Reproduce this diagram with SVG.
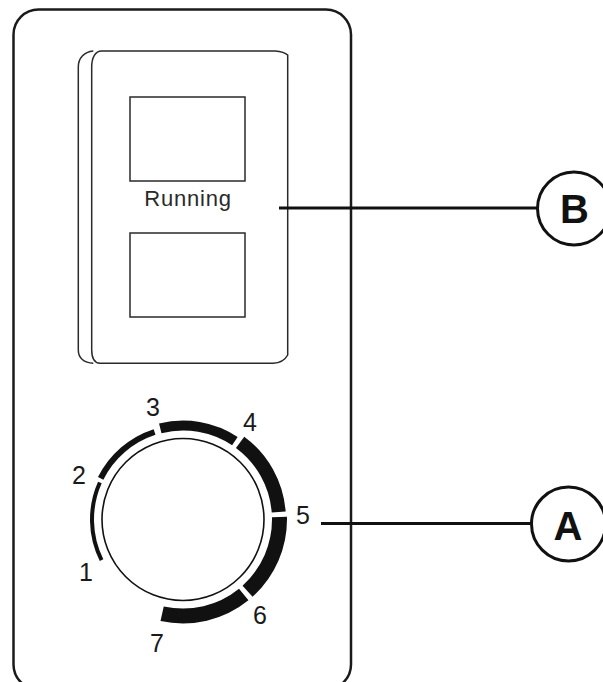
<svg xmlns="http://www.w3.org/2000/svg" width="603" height="682" viewBox="0 0 603 682">
<style>
.frame{fill:none;stroke:#1a1a1a;stroke-width:2.5}
.thin{fill:none;stroke:#2a2a2a;stroke-width:1.5}
.seg{fill:#111;stroke:none}
.lead{fill:none;stroke:#111;stroke-width:3}
.callout{fill:#fff;stroke:#111;stroke-width:3}
.num{font-family:"Liberation Sans",Arial,sans-serif;font-size:25px;fill:#1a1a1a;text-anchor:middle}
.lbl{font-family:"Liberation Sans",Arial,sans-serif;font-size:22px;fill:#2a2a2a;text-anchor:middle;letter-spacing:0.8px}
.big{font-family:"Liberation Sans",Arial,sans-serif;font-size:40px;font-weight:bold;fill:#111;text-anchor:middle}
</style>
<rect width="603" height="682" fill="#fff"/>
<g id="panel">
<rect class="frame" x="13.5" y="9.5" width="337.5" height="680" rx="25"/>
</g>
<g id="display">
<path class="thin" d="M93.3,51 C84,52 78.3,58 78.3,67 L78.3,350 C78.3,358 84,363 93.3,363.3"/>
<path class="thin" d="M101.7,51 L275,51 C281,51.5 285,52.5 287.7,55 L287.7,355 C285,360 281,363 273,363.3 L100,363.3 C94,363 91.7,358 91.7,350 L91.7,67 C91.7,58 95,51 101.7,51 Z"/>
<rect class="thin" x="130" y="97" width="115" height="84"/>
<rect class="thin" x="130" y="233" width="115" height="84"/>
<text class="lbl" x="188" y="206">Running</text>
</g>
<g id="dial">
<circle cx="183" cy="519.5" r="81" fill="none" stroke="#111" stroke-width="1.6"/>
<path class="seg" d="M99.77,561 A93,93 0 0 1 98.04,481.68 L101.7,483.3 A89,89 0 0 0 103.35,559.21 Z"/>
<path class="seg" d="M97.98,477.11 A95,95 0 0 1 153.64,429.15 L155.5,434.85 A89,89 0 0 0 103.35,479.79 Z"/>
<path class="seg" d="M159.05,423.44 A99,99 0 0 1 237.64,436.94 L232.12,445.28 A89,89 0 0 0 161.47,433.14 Z"/>
<path class="seg" d="M244.26,436.7 A103,103 0 0 1 285.68,511.42 L271.73,512.52 A89,89 0 0 0 235.94,447.95 Z"/>
<path class="seg" d="M286.96,516.78 A104,104 0 0 1 252.59,596.78 L242.55,585.64 A89,89 0 0 0 271.97,517.17 Z"/>
<path class="seg" d="M248.45,600.32 A104,104 0 0 1 160.49,621.04 L163.74,606.39 A89,89 0 0 0 239.01,588.66 Z"/>
<text class="num" x="86" y="581">1</text>
<text class="num" x="79" y="484">2</text>
<text class="num" x="153" y="416">3</text>
<text class="num" x="250" y="431">4</text>
<text class="num" x="303" y="524">5</text>
<text class="num" x="260" y="624">6</text>
<text class="num" x="157" y="652">7</text>
</g>
<g id="connectors">
<line class="lead" x1="279" y1="208" x2="538" y2="208"/>
<line class="lead" x1="321" y1="523.5" x2="532" y2="523.5"/>
</g>
<g id="callout-B">
<circle class="callout" cx="574" cy="208.5" r="36.5"/>
<text class="big" x="574.5" y="223">B</text>
</g>
<g id="callout-A">
<circle class="callout" cx="568.5" cy="524" r="37"/>
<text class="big" x="568" y="540">A</text>
</g>
</svg>
